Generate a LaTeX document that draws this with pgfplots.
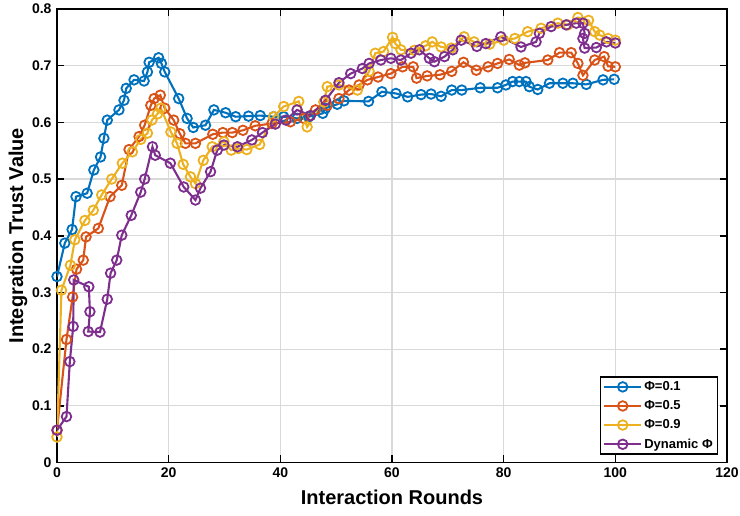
\documentclass[border=0pt]{standalone}
\usepackage{fontspec}
\setmainfont{Liberation Sans}
\usepackage{pgfplots}
\pgfplotsset{compat=1.18}
\definecolor{mblue}{rgb}{0,0.447,0.741}
\definecolor{mred}{rgb}{0.85,0.325,0.098}
\definecolor{myellow}{rgb}{0.929,0.694,0.125}
\definecolor{mpurple}{rgb}{0.494,0.184,0.556}
\begin{document}
\begin{tikzpicture}
\begin{axis}[
  at={(0,0)}, anchor=south west,
  scale only axis, width=670pt, height=453.5pt,
  xmin=0, xmax=120, ymin=0, ymax=0.8,
  xtick={0,20,40,60,80,100,120},
  ytick={0,0.1,0.2,0.3,0.4,0.5,0.6,0.7,0.8},
  yticklabels={0,0.1,0.2,0.3,0.4,0.5,0.6,0.7,0.8},
  /pgf/number format/assume math mode=true,
  ticklabel style={font=\bfseries\fontsize{14}{14}\selectfont},
  yticklabel style={xshift=-2pt},
  xticklabel style={yshift=-2pt},
  tick pos=both, tick align=inside,
  major tick length=7pt,
  every tick/.style={black, line width=1.6pt},
  axis line style={black, line width=1.8pt},
  grid=major,
  major grid style={draw=black!15, line width=1.2pt},
  xlabel={Interaction Rounds},
  ylabel={Integration Trust Value},
  label style={font=\bfseries\fontsize{20}{20}\selectfont},
  xlabel style={at={(axis description cs:0.5,0)}, anchor=center, yshift=-34.5pt},
  ylabel style={at={(axis description cs:0,0.5)}, anchor=center, yshift=39pt},
  legend style={at={(1,0)}, anchor=south east, xshift=-9pt, yshift=7.5pt,
    draw=black, line width=1.5pt, font=\bfseries\fontsize{13}{13}\selectfont,
    cells={anchor=west}, row sep=4.5pt, inner sep=2.5pt},
  legend image code/.code={\draw[mark repeat=2,mark phase=2,#1] plot coordinates {(0pt,0pt) (18.5pt,0pt) (37pt,0pt)};},
  every axis plot/.append style={line width=2.1pt, mark=o, mark size=4.8pt, mark options={solid, line width=1.8pt}},
]
\addplot[color=mblue] coordinates {
(0,0.328)(1.4,0.387)(2.7,0.411)(3.4,0.469)(5.4,0.475)(6.6,0.516)(7.8,0.539)(8.4,0.572)(9.0,0.604)(11.1,0.622)(12.0,0.639)(12.4,0.660)(13.8,0.675)(15.6,0.673)(16.2,0.689)(16.5,0.706)(18.2,0.714)(18.7,0.704)(19.3,0.689)(21.8,0.642)(23.3,0.607)(24.4,0.591)(26.6,0.595)(28.1,0.622)(30.2,0.617)(32.0,0.610)(34.3,0.611)(36.4,0.612)(38.8,0.610)(40.6,0.610)(43.0,0.607)(45.1,0.610)(47.6,0.616)(48.1,0.625)(50.2,0.632)(51.4,0.638)(55.8,0.637)(58.2,0.654)(60.7,0.651)(62.8,0.645)(65.2,0.649)(67.0,0.650)(68.8,0.646)(70.7,0.657)(72.5,0.657)(75.8,0.661)(78.9,0.661)(80.4,0.666)(81.6,0.672)(82.8,0.672)(84.0,0.672)(84.6,0.663)(86.1,0.658)(88.2,0.669)(90.6,0.669)(92.4,0.669)(94.8,0.667)(97.8,0.675)(99.8,0.676)
};
\addlegendentry{Φ=0.1}
\addplot[color=mred] coordinates {
(0,0.057)(1.7,0.217)(2.8,0.292)(3.5,0.341)(4.7,0.357)(5.2,0.398)(7.4,0.413)(9.5,0.469)(11.6,0.489)(12.9,0.552)(14.7,0.575)(15.7,0.595)(16.8,0.630)(17.4,0.642)(18.5,0.648)(19.3,0.625)(20.9,0.604)(22.0,0.580)(23.0,0.563)(24.8,0.563)(27.9,0.579)(29.7,0.582)(31.4,0.582)(33.3,0.586)(35.5,0.594)(38.5,0.598)(41.8,0.601)(44.2,0.607)(46.3,0.622)(48.4,0.630)(50.5,0.642)(52.3,0.657)(54.1,0.666)(55.6,0.675)(57.5,0.680)(59.8,0.686)(61.9,0.698)(63.8,0.698)(64.4,0.678)(66.3,0.682)(68.6,0.684)(70.7,0.690)(72.8,0.706)(75.1,0.692)(77.2,0.698)(78.9,0.704)(81.0,0.711)(82.8,0.701)(83.8,0.705)(87.9,0.710)(90.0,0.723)(92.1,0.723)(93.3,0.704)(94.2,0.683)(96.3,0.710)(98.0,0.716)(98.7,0.699)(100,0.698)
};
\addlegendentry{Φ=0.5}
\addplot[color=myellow] coordinates {
(0,0.045)(0.8,0.304)(2.4,0.348)(3.2,0.393)(5.0,0.427)(6.5,0.445)(8.0,0.472)(9.8,0.500)(11.7,0.528)(13.5,0.548)(15.0,0.570)(16.2,0.581)(17.0,0.604)(18.0,0.615)(18.6,0.625)(20.4,0.583)(21.5,0.563)(22.6,0.526)(23.9,0.504)(24.8,0.492)(26.2,0.533)(27.8,0.557)(29.9,0.566)(31.2,0.551)(32.5,0.554)(34.0,0.552)(36.3,0.561)(38.8,0.610)(40.6,0.628)(43.3,0.637)(44.8,0.592)(47.8,0.636)(48.4,0.663)(50.5,0.666)(53.8,0.657)(55.9,0.690)(57.0,0.722)(58.5,0.725)(60.1,0.750)(60.6,0.739)(61.6,0.728)(64.0,0.727)(66.0,0.735)(67.2,0.742)(68.8,0.733)(70.6,0.731)(72.9,0.751)(74.7,0.742)(77.5,0.738)(80.0,0.745)(82.0,0.748)(84.3,0.760)(86.7,0.766)(89.7,0.775)(91.5,0.772)(93.3,0.785)(95.2,0.780)(96.3,0.760)(97.2,0.754)(98.7,0.748)(100,0.745)
};
\addlegendentry{Φ=0.9}
\addplot[color=mpurple] coordinates {
(0,0.057)(1.7,0.081)(2.3,0.178)(2.9,0.240)(3.0,0.322)(5.7,0.310)(5.9,0.266)(5.6,0.231)(7.7,0.230)(9.0,0.288)(9.6,0.334)(10.7,0.357)(11.6,0.401)(13.3,0.436)(15.0,0.477)(15.7,0.500)(17.1,0.557)(17.6,0.542)(20.3,0.528)(22.7,0.486)(24.8,0.463)(25.7,0.484)(27.5,0.513)(28.7,0.551)(29.9,0.560)(32.3,0.557)(34.9,0.569)(36.8,0.582)(39.1,0.597)(41.0,0.604)(43.0,0.622)(45.4,0.612)(48.1,0.639)(50.5,0.670)(52.6,0.686)(54.7,0.695)(55.9,0.704)(58.0,0.710)(59.8,0.713)(61.6,0.710)(63.4,0.722)(64.9,0.728)(66.7,0.713)(67.6,0.707)(69.4,0.716)(70.9,0.728)(72.4,0.745)(75.2,0.734)(76.8,0.739)(79.5,0.751)(83.1,0.733)(85.8,0.742)(86.4,0.757)(88.5,0.769)(91.2,0.772)(93.0,0.775)(94.2,0.775)(94.5,0.757)(94.2,0.748)(94.5,0.731)(96.6,0.732)(98.4,0.742)(100,0.740)
};
\addlegendentry{Dynamic Φ}
\end{axis}
\pgfresetboundingbox
\path[use as bounding box] (-57pt,-53.5pt) rectangle (683pt,462.5pt);
\end{tikzpicture}
\end{document}
